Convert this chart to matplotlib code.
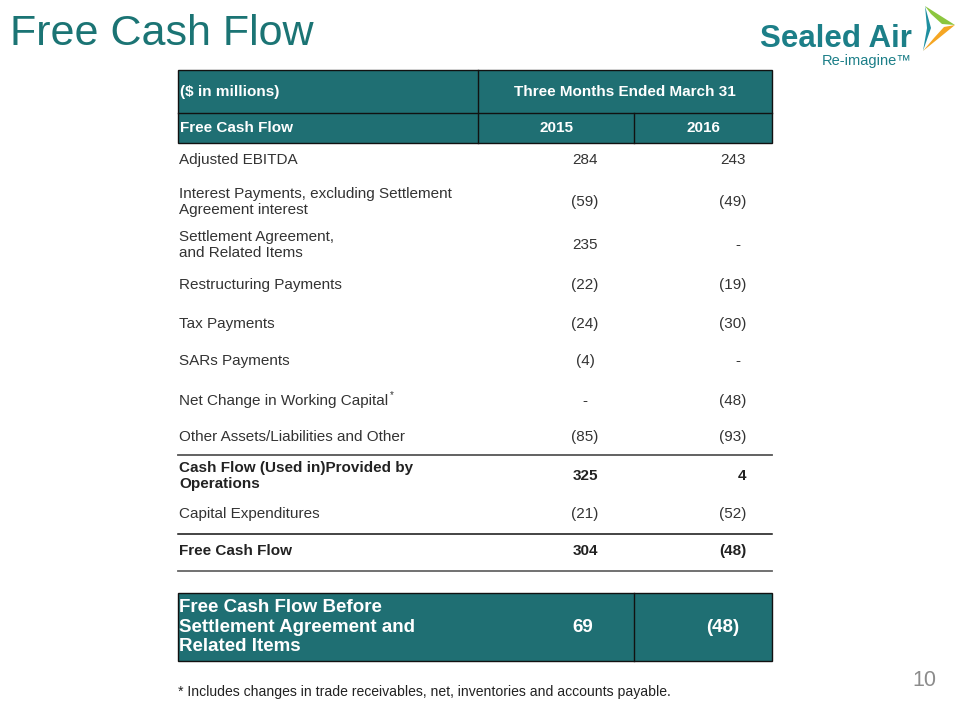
import matplotlib.pyplot as plt
from matplotlib.patches import Rectangle, Polygon

plt.rcParams['font.family'] = ['Liberation Sans', 'DejaVu Sans']

TEAL = '#1f6f73'
TITLE_TEAL = '#1b7474'

# table data
header_left = '($ in millions)'
header_period = 'Three Months Ended March 31'
header_sub = 'Free Cash Flow'
years = ['2015', '2016']

row_labels = [
    'Adjusted EBITDA',
    'Interest Payments, excluding Settlement\nAgreement interest',
    'Settlement Agreement,\nand Related Items',
    'Restructuring Payments',
    'Tax Payments',
    'SARs Payments',
    'Net Change in Working Capital',
    'Other Assets/Liabilities and Other',
    'Cash Flow (Used in)Provided by\nOperations',
    'Capital Expenditures',
    'Free Cash Flow',
]
vals_2015 = ['284', '(59)', '235', '(22)', '(24)', '(4)', '-', '(85)', '325', '(21)', '304']
vals_2016 = ['243', '(49)', '-', '(19)', '(30)', '-', '(48)', '(93)', '4', '(52)', '(48)']
bold_rows = [8, 10]
starred_row = 6

total_label = 'Free Cash Flow Before\nSettlement Agreement and\nRelated Items'
total_2015 = '69'
total_2016 = '(48)'

footnote = '* Includes changes in trade receivables, net, inventories and accounts payable.'
page_no = '10'

# layout (pixels)
row_y = [160, 202, 245, 285, 324, 361, 401, 437, 476, 514, 551]
x_left, x_div, x_mid, x_right = 178, 478, 634, 772

fig = plt.figure(figsize=(9.6, 7.2), dpi=100)
ax = fig.add_axes([0, 0, 1, 1])
ax.set_xlim(0, 960)
ax.set_ylim(720, 0)
ax.axis('off')

# title
ax.text(10, 34, 'Free Cash Flow', fontsize=31, color=TITLE_TEAL, va='center', ha='left')

# logo
ax.text(912, 39, 'Sealed Air', fontsize=22.5, fontweight='bold', color='#1c7f88',
        ha='right', va='center')
ax.text(912, 61, 'Re-imagine\u2122', fontsize=10.5, color='#1c7f88', ha='right', va='center')
ax.add_patch(Polygon([(925, 6), (955, 25), (942, 24), (931, 14)], closed=True,
                     facecolor='#8cc63f', edgecolor='none'))
ax.add_patch(Polygon([(955, 25), (923, 51), (934, 38), (944, 27)], closed=True,
                     facecolor='#f5a623', edgecolor='none'))
ax.add_patch(Polygon([(925, 6), (931, 28), (923, 51), (927, 28)], closed=True,
                     facecolor='#1f8fa0', edgecolor='none'))

# header
ax.add_patch(Rectangle((x_left, 70), x_right - x_left, 73, facecolor=TEAL,
                       edgecolor='#111111', lw=1))
ax.plot([x_left, x_right], [113, 113], color='#111111', lw=1)
ax.plot([x_div, x_div], [70, 143], color='#111111', lw=1)
ax.plot([x_mid, x_mid], [113, 143], color='#111111', lw=1)
ax.text(x_left + 2, 92, header_left, fontsize=11, fontweight='bold', color='white', va='center')
ax.text((x_div + x_right) / 2, 92, header_period, fontsize=11, fontweight='bold',
        color='white', va='center', ha='center')
ax.text(x_left + 2, 128, header_sub, fontsize=11, fontweight='bold', color='white', va='center')
ax.text((x_div + x_mid) / 2, 128, years[0], fontsize=11, fontweight='bold', color='white',
        va='center', ha='center')
ax.text((x_mid + x_right) / 2, 128, years[1], fontsize=11, fontweight='bold', color='white',
        va='center', ha='center')

# body rows
label_texts = []
for i, label in enumerate(row_labels):
    y = row_y[i]
    w = 'bold' if i in bold_rows else 'normal'
    c = '#222222' if i in bold_rows else '#333333'
    t = ax.text(x_left + 1, y, label, fontsize=11, fontweight=w, color=c, va='center',
                ha='left', linespacing=1.2)
    label_texts.append(t)
    ax.text(585, y, vals_2015[i], fontsize=11, fontweight=w, color=c, va='center', ha='center')
    v = vals_2016[i]
    ax.text(746 if v != '-' else 740, y, v, fontsize=11, fontweight=w, color=c,
            va='center', ha='right')

# asterisk right after the working capital label
fig.canvas.draw()
bb = label_texts[starred_row].get_window_extent()
x_end = ax.transData.inverted().transform((bb.x1, bb.y1))[0]
ax.text(x_end + 4, row_y[starred_row] - 6, '*', fontsize=7, color='#333333',
        va='center', ha='center')

# separator lines
ax.plot([x_left, x_right], [455, 455], color='#555555', lw=1.3)
ax.plot([x_left, x_right], [534, 534], color='#111111', lw=1.1)
ax.plot([x_left, x_right], [571, 571], color='#666666', lw=1.3)

# total box
ax.add_patch(Rectangle((x_left, 593), x_right - x_left, 68, facecolor=TEAL,
                       edgecolor='#111111', lw=1))
ax.plot([x_mid, x_mid], [593, 661], color='#111111', lw=1)
ax.text(x_left + 1, 627, total_label, fontsize=13.5, fontweight='bold', color='white',
        va='center', ha='left', linespacing=1.2)
ax.text(583, 627, total_2015, fontsize=13.5, fontweight='bold', color='white',
        va='center', ha='center')
ax.text(723, 627, total_2016, fontsize=13.5, fontweight='bold', color='white',
        va='center', ha='center')

# footnote and page number
ax.text(x_left, 692, footnote, fontsize=10.1, color='#222222', va='center', ha='left')
ax.text(936, 680, page_no, fontsize=15.5, color='#8c8c8c', va='center', ha='right')

fig.savefig('out.png', dpi=100, facecolor='white')
